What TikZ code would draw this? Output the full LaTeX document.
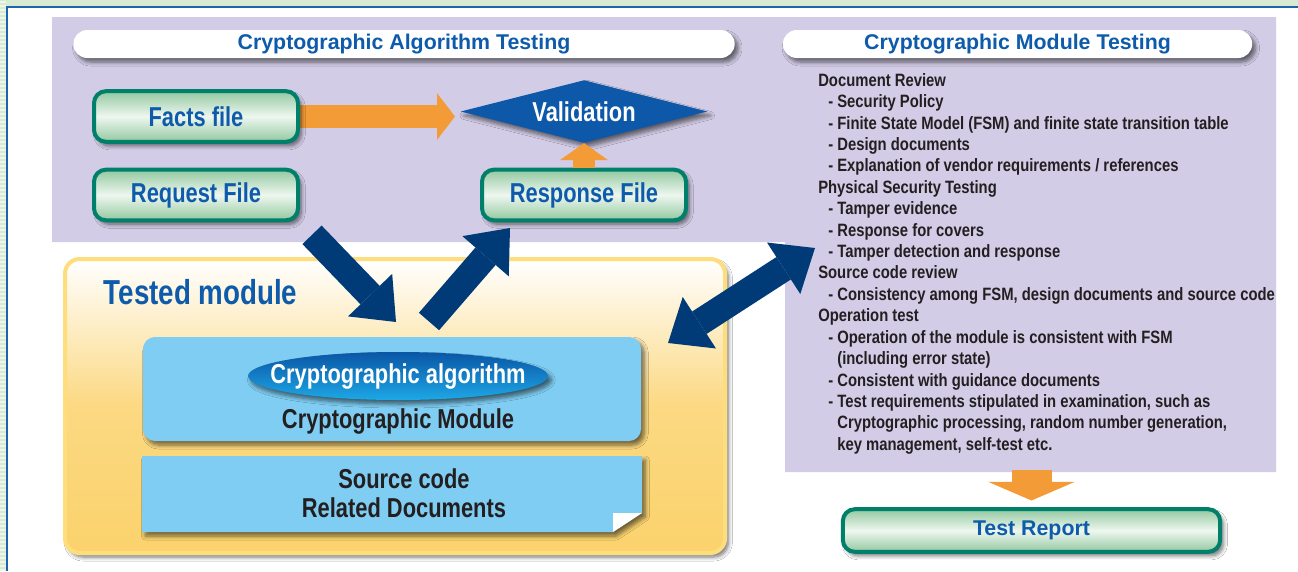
\documentclass[tikz,border=0pt]{standalone}
\usepackage{fontspec}
\setmainfont{Liberation Sans}
\newfontfamily\condfont{Liberation Sans}[FakeStretch=0.8]
\newfontfamily\listfont{Liberation Sans}[FakeStretch=0.83]
\usetikzlibrary{shapes.geometric,arrows.meta,shadows.blur,calc}
\definecolor{bggreen}{HTML}{D8EBD2}
\definecolor{frameblue}{HTML}{1E63AE}
\definecolor{lavender}{HTML}{D2CCE6}
\definecolor{headblue}{HTML}{0D5BAA}
\definecolor{boxteal}{HTML}{00806B}
\definecolor{boxgreen}{HTML}{92C8A0}
\definecolor{boxlight}{HTML}{EEF7EF}
\definecolor{navy}{HTML}{003B78}
\definecolor{arroworange}{HTML}{F39B37}
\definecolor{diamondblue}{HTML}{0D58A8}
\definecolor{skyblue}{HTML}{7FCDF2}
\definecolor{yellowrim}{HTML}{FDDD7C}
\definecolor{panelyellow}{HTML}{FBD26C}
\definecolor{ovaltop}{HTML}{0A56A6}
\definecolor{ovalbottom}{HTML}{1DA8E6}
\definecolor{textdark}{HTML}{231F20}
\tikzset{
  lbl/.style = {font=\condfont\bfseries\fontsize{20.5}{21.75}\selectfont, text=headblue},
  headlbl/.style = {font=\bfseries\fontsize{16}{19}\selectfont, text=headblue},
  softshadow/.style = {blur shadow={shadow xshift=2.5pt, shadow yshift=-3pt, shadow blur radius=3pt, shadow blur steps=6, shadow opacity=55}},
  filebox/.style = {lbl, softshadow, draw=boxteal, line width=3pt, rounded corners=9pt,
    top color=boxgreen, bottom color=boxgreen, middle color=boxlight,
    minimum width=153pt, minimum height=38pt, inner sep=0pt},
  pill/.style = {headlbl, fill=white, softshadow, rounded corners=10.5pt, minimum height=21pt, inner sep=0pt},
  fatarrow/.style = {draw=navy, line width=20pt, >={Triangle[length=28pt,width=46pt,line width=0pt]}}
}
\newcommand{\dashitem}{\hspace*{7.5pt}- }
\newcommand{\contitem}{\hspace*{7.5pt}\phantom{- }}

\begin{document}
\begin{tikzpicture}[x=0.75pt,y=-0.75pt]
  \useasboundingbox (0,0) rectangle (1298,571);
  % frame
  \fill[bggreen] (0,0) rectangle (1298,571);
  \foreach \y in {1,5,...,569} \fill[white!55!bggreen] (0,\y) rectangle (6,\y+1.5);
  \fill[white] (7,7) rectangle (1298,571);
  \draw[frameblue, line width=1.5pt] (7,571) -- (7,7) -- (1298,7);
  % lavender panels
  \fill[lavender] (52,17) -- (1276,17) -- (1276,472) -- (785,472) -- (785,242) -- (52,242) -- cycle;
  % headers
  \node[pill, minimum width=496pt] (algohead) at (404,44) {Cryptographic Algorithm Testing};
  \node[pill, minimum width=352pt] (modhead) at (1017.5,44) {Cryptographic Module Testing};
  % tested module
  \node[softshadow, draw=yellowrim, line width=3pt, rounded corners=11pt,
        top color=white, bottom color=panelyellow, middle color=panelyellow!85!white,
        minimum width=495pt, minimum height=220.5pt] (tested) at (395,406) {};
  \node[anchor=west, font=\condfont\bfseries\fontsize{26}{30}\selectfont, text=headblue] (testedtitle) at (99,292) {Tested module};
  \node[softshadow, fill=skyblue, rounded corners=9pt, minimum width=373.5pt, minimum height=78pt] (cmod) at (392,389) {};
  \node[ellipse, softshadow, top color=ovaltop, bottom color=ovalbottom, minimum width=225pt, minimum height=36pt,
        inner sep=0pt] (calg) at (398,376) {};
  \node[lbl, text=white] (calgtext) at (calg) {Cryptographic algorithm};
  \node[lbl, text=textdark] (cmodtext) at (398,421) {Cryptographic Module};
  % source code sheet
  \path[fill=skyblue, softshadow] (142,456) -- (642,456) -- (642,513) -- (613,532) -- (142,532) -- cycle;
  \fill[white] (613,513) -- (642,513) -- (613,532) -- cycle;
  \node[lbl, text=textdark, align=center] (src) at (404,493) {Source code\\Related Documents};
  % orange arrow facts -> validation (drawn under the boxes)
  \coordinate (factsend) at (300,116.5);
  \coordinate (validleft) at (460,116.5);
  \draw[arroworange, line width=17pt, -{Triangle[length=13.5pt,width=35pt,line width=0pt]}, shorten >=3.75pt] (factsend) -- (validleft);
  % file boxes
  \node[filebox] (facts) at (196,116.5) {Facts file};
  \node[filebox] (request) at (196,195) {Request File};
  \node[filebox] (response) at (584,195) {Response File};
  \node[diamond, aspect=3.9, softshadow, fill=diamondblue, minimum width=185pt, minimum height=47pt,
        inner sep=0pt, lbl, text=white] (valid) at (584,111.5) {Validation};
  \draw[arroworange, line width=16.5pt, -{Triangle[length=12.75pt,width=36pt,line width=0pt]}] (response.north) -- (valid.south);
  % right panel list
  \node[anchor=north west, inner sep=0pt, align=left, text=textdark,
        font=\listfont\bfseries\fontsize{13.4}{16.06}\selectfont] (reviewlist) at (818,73) {%
    Document Review\\
    \dashitem Security Policy\\
    \dashitem Finite State Model (FSM) and finite state transition table\\
    \dashitem Design documents\\
    \dashitem Explanation of vendor requirements / references\\
    Physical Security Testing\\
    \dashitem Tamper evidence\\
    \dashitem Response for covers\\
    \dashitem Tamper detection and response\\
    Source code review\\
    \dashitem Consistency among FSM, design documents and source code\\
    Operation test\\
    \dashitem Operation of the module is consistent with FSM\\
    \contitem (including error state)\\
    \dashitem Consistent with guidance documents\\
    \dashitem Test requirements stipulated in examination, such as\\
    \contitem Cryptographic processing, random number generation,\\
    \contitem key management, self-test etc.};
  % test report
  \node[filebox, headlbl, minimum width=283pt, minimum height=32pt] (report) at (1031.5,530.5) {Test Report};
  \coordinate (panelbottom) at ($(report.north)+(0,-37.2)$);
  \draw[arroworange, line width=30pt, -{Triangle[length=14pt,width=65pt,line width=0pt]}, shorten >=5pt] (panelbottom) -- (report.north);
  % navy arrows
  \coordinate (intip) at (396,322);
  \coordinate (outtail) at (429,321.5);
  \coordinate (outtip) at (510,228);
  \coordinate (dleft) at (668,343);
  \coordinate (dright) at (815,248);
  \draw[fatarrow, ->, shorten <=13pt] (request.south east) -- (intip);
  \draw[fatarrow, ->] (outtail) -- (outtip);
  \draw[fatarrow, <->] (dleft) -- (dright);
\end{tikzpicture}
\end{document}
